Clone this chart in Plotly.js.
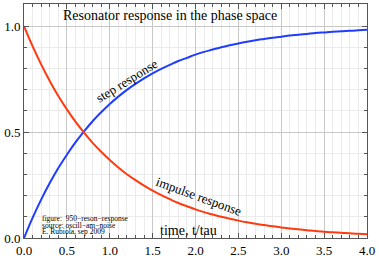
<!DOCTYPE html>
<html><head><meta charset="utf-8">
<script src="https://cdn.plot.ly/plotly-3.0.1.min.js"></script>
<style>html,body{margin:0;padding:0;background:#fff}#c{width:379px;height:260px}</style>
</head><body><div id="c"></div>
<script>
const timeTau = [0.0,0.1,0.2,0.3,0.4,0.5,0.6,0.7,0.8,0.9,1.0,1.1,1.2,1.3,1.4,1.5,1.6,1.7,1.8,1.9,2.0,2.1,2.2,2.3,2.4,2.5,2.6,2.7,2.8,2.9,3.0,3.1,3.2,3.3,3.4,3.5,3.6,3.7,3.8,3.9,4.0];
const stepResponse = [0.000,0.095,0.181,0.259,0.330,0.393,0.451,0.503,0.551,0.593,0.632,0.667,0.699,0.727,0.753,0.777,0.798,0.817,0.835,0.850,0.865,0.878,0.889,0.900,0.909,0.918,0.926,0.933,0.939,0.945,0.950,0.955,0.959,0.963,0.967,0.970,0.973,0.975,0.978,0.980,0.982];
const impulseResponse = [1.000,0.905,0.819,0.741,0.670,0.607,0.549,0.497,0.449,0.407,0.368,0.333,0.301,0.273,0.247,0.223,0.202,0.183,0.165,0.150,0.135,0.122,0.111,0.100,0.091,0.082,0.074,0.067,0.061,0.055,0.050,0.045,0.041,0.037,0.033,0.030,0.027,0.025,0.022,0.020,0.018];
const xTickVals = [0,0.5,1,1.5,2,2.5,3,3.5,4];
const xTickText = ["0.0","0.5","1.0","1.5","2.0","2.5","3.0","3.5","4.0"];
const yTickVals = [0,0.5,1];
const yTickText = ["0.0","0.5","1.0"];
const creditLines = ["figure:  950\u2212reson\u2212response","source: oscill\u2212am\u2212noise","E. Rubiola, sep 2009"];

const serif = "Liberation Serif, Times New Roman, serif";
const traces = [
  {x: timeTau, y: stepResponse, mode: 'lines', line: {color: '#1f3cff', width: 2, shape: 'spline'}, hoverinfo: 'none'},
  {x: timeTau, y: impulseResponse, mode: 'lines', line: {color: '#ff3a10', width: 2, shape: 'spline'}, hoverinfo: 'none'}
];
const axisCommon = {
  showline: true, linecolor: '#555', linewidth: 1, mirror: 'ticks',
  ticks: 'inside', ticklen: 5, tickcolor: '#555', tickwidth: 1,
  showgrid: true, gridcolor: '#c8c8c8', gridwidth: 1, zeroline: false,
  tickfont: {family: serif, size: 13, color: '#000'},
  minor: {dtick: 0.1, ticks: 'inside', ticklen: 3, tickcolor: '#555', showgrid: true, gridcolor: '#ebebeb', gridwidth: 1}
};
const annotations = [
  {text: 'step response', x: 1.203, y: 0.741, textangle: -32},
  {text: 'impulse response', x: 2.044, y: 0.198, textangle: 20},
  {text: 'time, t/tau', x: 1.915, y: 0.035, textangle: 0, size: 14}
].map(a => ({xref: 'x', yref: 'y', x: a.x, y: a.y, text: a.text, textangle: a.textangle, showarrow: false,
  xanchor: 'center', yanchor: 'middle', font: {family: serif, size: a.size || 13, color: '#000'}}));
const creditY = [0.090, 0.059, 0.030];
creditLines.forEach((t, i) => annotations.push({xref: 'x', yref: 'y', x: 0.21, y: creditY[i], text: t, showarrow: false,
  borderpad: 0, borderwidth: 0,
  xanchor: 'left', yanchor: 'middle', font: {family: serif, size: 7.5, color: '#000'}}));

const layout = {
  width: 379, height: 260,
  margin: {l: 24, r: 12, t: 4, b: 22},
  paper_bgcolor: '#fff', plot_bgcolor: '#fff',
  showlegend: false,
  title: {text: 'Resonator response in the phase space', xref: 'paper', yref: 'paper', x: 0.426, y: 0.953,
    xanchor: 'center', yanchor: 'middle', font: {family: serif, size: 14, color: '#000'}},
  xaxis: Object.assign({}, axisCommon, {range: [0, 4], tickvals: xTickVals, ticktext: xTickText}),
  yaxis: Object.assign({}, axisCommon, {range: [0, 1.104], tickvals: yTickVals, ticktext: yTickText}),
  annotations: annotations
};
Plotly.newPlot('c', traces, layout, {staticPlot: true, displayModeBar: false});
</script></body></html>
